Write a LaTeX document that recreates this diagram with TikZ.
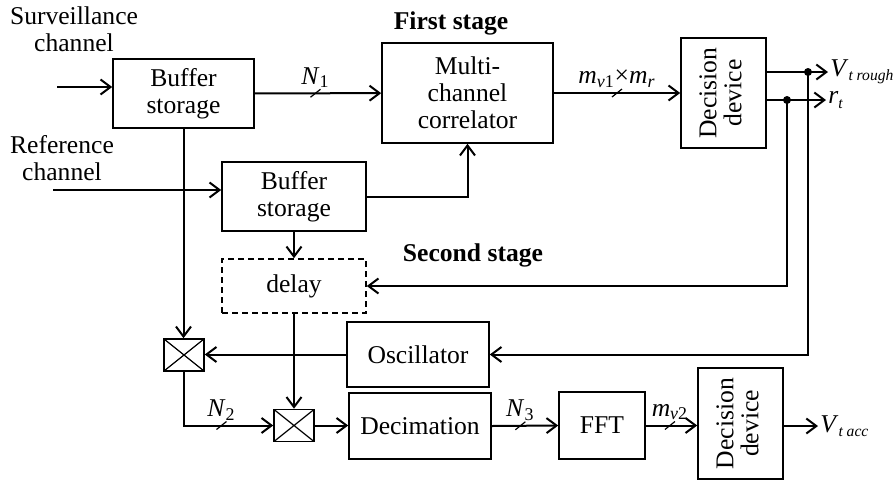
\documentclass[tikz,border=0pt]{standalone}
\usepackage{fontspec}
\setmainfont{Liberation Serif}
\usepackage{graphicx}
\usetikzlibrary{arrows.meta, positioning, calc}

% vertical two-line text for the decision blocks
\newcommand{\decisiontext}{\rotatebox{90}{\begin{tabular}{@{}c@{}}Decision\\[-1pt]device\end{tabular}}}
% small italic subscript
\newcommand{\smallsub}[1]{\raisebox{-0.35ex}{\fontsize{7.8}{8}\selectfont\itshape #1}}

\tikzset{
    slash/.pic={\draw[line width=0.6pt] (-2.5pt,-2pt) -- (2.5pt,2pt);}
}

\begin{document}
\begin{tikzpicture}[
    x=0.5pt, y=-0.5pt,
    every node/.style={font=\fontsize{12.8}{13.5}\selectfont},
    box/.style={rectangle, draw, line width=0.8pt, align=center, inner sep=1pt},
    mixer/.style={rectangle, draw, line width=0.8pt, inner sep=0pt,
                  minimum width=20pt, minimum height=16pt,
                  path picture={\draw[line width=0.6pt]
                      (path picture bounding box.north west) -- (path picture bounding box.south east)
                      (path picture bounding box.south west) -- (path picture bounding box.north east);}},
    arrow/.style={-{Straight Barb[length=5pt,width=7.5pt]}, line width=1pt},
    dot/.style={circle, fill, inner sep=0pt, minimum size=4pt},
    lbl/.style={inner sep=1pt},
    stage/.style={font=\fontsize{12.8}{13.5}\selectfont\bfseries}
]
\useasboundingbox (0,0) rectangle (896,484);

% inputs and stage titles
\node[align=center] (surv) at (74,29) {Surveillance\\channel};
\node[align=center] (refc) at (62,158) {Reference\\channel};
\node[stage] (first) at (451,23) {First stage};
\node[stage] (second) at (473,255) {Second stage};

% first stage blocks
\node[box, minimum width=70.5pt, minimum height=34.5pt] (buf1) at (183.5,93.5) {Buffer\\storage};
\node[box, minimum width=85.5pt, minimum height=50pt] (corr) at (467.5,93) {Multi-\\channel\\correlator};
\node[box, minimum width=42.5pt, minimum height=55pt] (dec1) at (723.5,93) {\decisiontext};
\node[box, minimum width=72pt, minimum height=34.5pt] (buf2) at (294,196.5) {Buffer\\storage};

% second stage blocks
\node[box, dash pattern=on 3pt off 2pt, minimum width=72pt, minimum height=27pt] (delay) at (294,286) {delay};
\node[mixer] (mix1) at (184,355) {};
\node[box, minimum width=71pt, minimum height=32.5pt] (osc) at (418,354.5) {Oscillator};
\node[mixer] (mix2) at (294,425.5) {};
\node[box, minimum width=71pt, minimum height=33pt] (decim) at (420,426) {Decimation};
\node[box, minimum width=43pt, minimum height=33.5pt] (fft) at (602,425.5) {FFT};
\node[box, minimum width=42.5pt, minimum height=55.5pt] (dec2) at (740.5,423.5) {\decisiontext};

% free ends and branch points
\coordinate (survin) at (57,87);
\coordinate (refin) at (53,190);
\coordinate (vrough) at (828,72);
\coordinate (rtout) at (826,100);
\coordinate (vacc) at (818,426);
\node[dot] (j1) at (808,72) {};
\node[dot] (j2) at (787,100) {};

% first stage connections
\draw[arrow] (survin) -- (survin -| buf1.west);
\draw[arrow] (refin) -- (refin -| buf2.west);
\draw[arrow] (buf1) -- coordinate[pos=0.48] (t1) (corr);
\draw[arrow] (buf2.east) -| (corr.south);
\draw[arrow] (corr) -- coordinate[pos=0.5] (t2) (dec1);
\draw[arrow] (dec1.east |- vrough) -- (vrough);
\draw[arrow] (dec1.east |- rtout) -- (rtout);

% second stage connections
\draw[arrow] (buf1.south) -- (buf1.south |- mix1.north);
\draw[arrow] (buf2.south) -- (delay.north);
\draw[arrow] (j2.center) |- (delay.east);
\draw[arrow] (j1.center) |- (osc.east);
\draw[arrow] (osc.west) -- (osc.west -| mix1.east);
\draw[arrow] (delay.south) -- (mix2.north);
\draw[arrow] (mix1.south) |- coordinate[pos=0.71] (t3) (mix2.west);
\draw[arrow] (mix2.east) -- (mix2.east -| decim.west);
\draw[arrow] (decim.east) -- coordinate[pos=0.43] (t4) (fft.west);
\draw[arrow] (fft.east) -- coordinate[pos=0.47] (t5) (fft.east -| dec2.west);
\draw[arrow] (dec2.east |- vacc) -- (vacc);

% bus widths
\pic at (t1) {slash};
\pic at (t2) {slash};
\pic at (t3) {slash};
\pic at (t4) {slash};
\pic at (t5) {slash};
\node[lbl, above=1.5pt of t1] (n1) {\textit{N}\textsubscript{1}};
\node[lbl, above=1.5pt of t2] (mv1) {\textit{m}\textsubscript{\textit{v}1}×\textit{m}\textsubscript{\textit{r}}};
\node[lbl, above=1.5pt of t3] (n2) {\textit{N}\textsubscript{2}};
\node[lbl, above=1.5pt of t4] (n3) {\textit{N}\textsubscript{3}};
\node[lbl, above=1.5pt of t5] (mv2) {\textit{m}\textsubscript{\textit{v}2}};

% outputs
\node[lbl, anchor=west] (vr) at (vrough) {\textit{V}\smallsub{t rough}};
\node[lbl, anchor=west] (rt) at (rtout) {\textit{r}\smallsub{t}};
\node[lbl, anchor=west] (va) at (vacc) {\textit{V}\smallsub{t acc}};

\end{tikzpicture}
\end{document}
